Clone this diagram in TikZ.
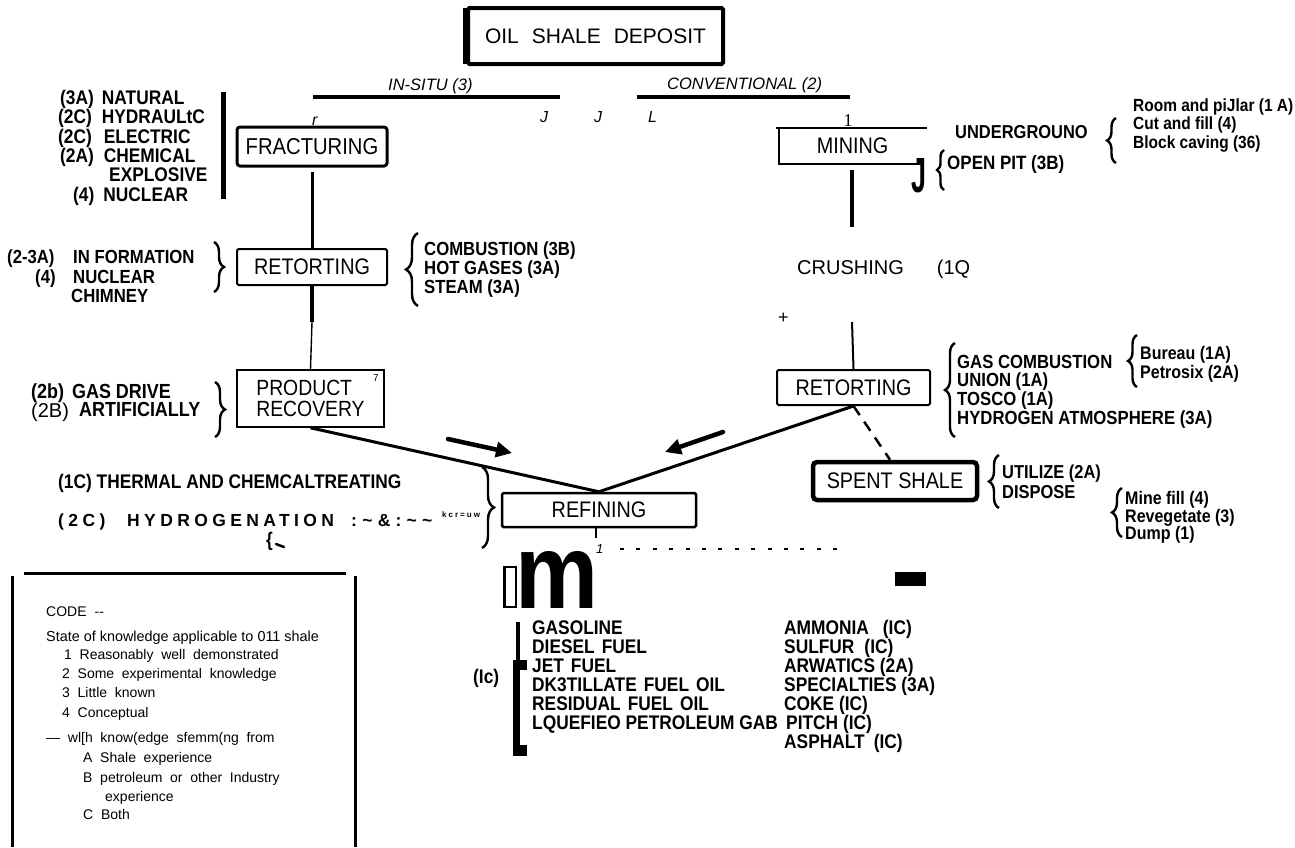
\documentclass[tikz,border=0pt]{standalone}
\usepackage{graphicx}
\usepackage{fontspec}
\setmainfont{Liberation Sans}
\newfontfamily\serifnum{Liberation Serif}
\newfontfamily\cnd{Liberation Sans}[FakeStretch=0.88]
\usetikzlibrary{decorations.pathreplacing,arrows.meta}
\newcommand\fs[1]{\fontsize{#1}{#1}\selectfont}
\newcommand\cb[1]{\cnd\bfseries\fontsize{#1}{#1}\selectfont}
\begin{document}
\begin{tikzpicture}[x=1pt,y=-1pt,
  box/.style={draw, inner sep=0pt, font=\fs{20.5}, line width=2pt, rounded corners=1.5pt},
  lbl/.style={anchor=base west, inner sep=0pt, font=\cb{19.7}},
  tlbl/.style={anchor=base west, inner sep=0pt, font=\cb{19}},
  code/.style={anchor=base west, inner sep=0pt, font=\fs{14}},
  codew/.style={code, execute at begin node={\spaceskip=0.55em\relax}},
  plain/.style={anchor=base west, inner sep=0pt},
  brc/.style={decorate, decoration={brace, amplitude=#1}, line width=2.4pt},
  conn/.style={line width=3pt},
  bigarrow/.style={line width=4.5pt, line cap=round, -{Triangle[length=16pt,width=15pt]}}
]
\useasboundingbox (0,0) rectangle (1295,847);

% ---------- boxes ----------
\node[box, line width=4pt, minimum width=255pt, minimum height=56pt, font=\fs{21}] (deposit) at (595.5,36) {OIL\hspace{13pt}SHALE\hspace{13pt}DEPOSIT};
\draw[line width=6pt] ([yshift=-2pt]deposit.north west) -- ([yshift=2pt]deposit.south west);
\node[box, line width=3pt, rounded corners=3pt, minimum width=150pt, minimum height=39pt, font=\cnd\fs{23}] (frac) at (312,146.5) {FRACTURING};
\node[box, minimum width=150pt, minimum height=36pt, font=\cnd\fs{22.5}] (retL) at (312,267) {RETORTING};
\node[box, line width=1.6pt, rounded corners=0pt, minimum width=147pt, minimum height=57pt, align=left, font=\cnd\fs{22}] (prod) at (310.5,398.5) {PRODUCT\\[-1.5pt]RECOVERY};
\node[box, draw=none, minimum width=145pt, minimum height=34pt, font=\cnd\fs{22.5}] (mining) at (852.5,146) {MINING};
\draw[line width=1.5pt] ([xshift=-3pt]mining.north west) -- ([xshift=1pt]mining.north east);
\draw[line width=1.5pt] (mining.north west) -- (mining.south west) -- ([xshift=-5pt]mining.south east);
\node[plain, font=\fs{20}] (crush) at (797,274) {CRUSHING\hspace{33pt}(1Q};
\node[box, minimum width=153pt, minimum height=35pt, font=\cnd\fs{22.5}] (retR) at (853.5,387.5) {RETORTING};
\node[box, line width=4.5pt, rounded corners=4pt, minimum width=164pt, minimum height=38pt, font=\cnd\fs{22.5}] (spent) at (895,481) {SPENT SHALE};
\node[box, line width=2.5pt, minimum width=194pt, minimum height=34pt, font=\cnd\fs{22.5}] (refin) at (599,510) {REFINING};

% ---------- top branches ----------
\node[plain, font=\itshape\fs{16.5}] (insitu) at (388,90) {IN-SITU (3)};
\node[plain, font=\itshape\fs{16.5}] (conv) at (667,89) {CONVENTIONAL (2)};
\coordinate (isA) at (313,97); \coordinate (isB) at (560,97);
\coordinate (cvA) at (637,97); \coordinate (cvB) at (850,97);
\draw[line width=3.5pt] (isA) -- (isB);
\draw[line width=3.5pt] (cvA) -- (cvB);
\node[plain, font=\itshape\fs{16}] (rr) at (312,125) {r};
\node[plain, font=\itshape\fs{16}] (j1) at (540,122) {J};
\node[plain, font=\itshape\fs{16}] (j2) at (594,122) {J};
\node[plain, font=\itshape\fs{16}] (l1) at (648,122) {L};
\node[anchor=base, inner sep=0pt, font=\serifnum\fs{18}] (one2) at (848,126) {1};

% ---------- connectors ----------
\draw[conn] ([yshift=-4pt]frac.south) -- (retL.north);
\coordinate (retLm) at (312,322);
\draw[line width=3.5pt] (retL.south) -- (retLm);
\draw[line width=1.4pt] (retLm) -- (prod.north);
\coordinate (minB) at (852,170); \coordinate (minE) at (852,227);
\draw[line width=4pt] (minB) -- (minE);
\coordinate (crB) at (852,322);
\draw[line width=2pt] (crB) -- (retR.north);
\draw[conn] (prod.south) -- (refin.north);
\draw[conn] (retR.south) -- (refin.north);
\draw[line width=2.5pt, dash pattern=on 11pt off 8pt] (retR.south) -- ([xshift=-5pt]spent.north);
\draw[line width=2pt] ([xshift=-3pt]refin.south) -- ++(0,10);
\coordinate (a1s) at (448,439); \coordinate (a1e) at (512,453);
\coordinate (a2s) at (723,432); \coordinate (a2e) at (665,452);
\draw[bigarrow] (a1s) -- (a1e);
\draw[bigarrow] (a2s) -- (a2e);

% ---------- fracturing list ----------
\node[lbl] (f1) at (60,104) {(3A)\hspace{8pt}NATURAL};
\node[lbl] (f2) at (58,123) {(2C)\hspace{10pt}HYDRAULtC};
\node[lbl] (f3) at (58,143) {(2C)\hspace{12pt}ELECTRIC};
\node[lbl] (f4) at (60,162) {(2A)\hspace{10pt}CHEMICAL};
\node[lbl] (f5) at (109,181) {EXPLOSIVE};
\node[lbl] (f6) at (73,201) {(4)\hspace{9pt}NUCLEAR};
\draw[line width=5pt] (223,92) -- (223,199);
\node[plain, font=\fs{18}] (plus) at (778,323) {+};

% ---------- left retorting ----------
\node[tlbl] (r1a) at (7,263) {(2-3A)};
\node[tlbl] (r1b) at (73,263) {IN FORMATION};
\node[tlbl] (r2a) at (35,283) {(4)};
\node[tlbl] (r2b) at (73,283) {NUCLEAR};
\node[tlbl] (r3) at (71,302) {CHIMNEY};
\draw[brc=10] (214,242) -- (214,292);
\draw[brc=12] (418,306) -- (418,233);
\node[tlbl] (c1) at (424,255) {COMBUSTION (3B)};
\node[tlbl] (c2) at (424,274) {HOT GASES (3A)};
\node[tlbl] (c3) at (424,293) {STEAM (3A)};

% ---------- product recovery ----------
\node[plain, font=\fs{10}] (seven) at (373,381) {7};
\node[lbl, font=\cb{20.4}] (p1) at (31,398) {(2b)\hspace{8pt}GAS DRIVE};
\node[plain, font=\fs{20}] (p2a) at (31,417) {(2B)};
\node[lbl, font=\cb{20.4}] (p2b) at (79,416) {ARTIFICIALLY};
\draw[brc=10] (215,382) -- (215,437);

% ---------- mining ----------
\node[lbl, font=\cb{18.7}] (m1) at (955,138) {UNDERGROUNO};
\node[lbl, font=\cb{19.3}] (m2) at (947,169) {OPEN PIT (3B)};
\node[anchor=south west, inner sep=0pt] (bigJ) at (911,193) {\resizebox{15pt}{34pt}{\bfseries J}};
\draw[brc=7] (944,190) -- (944,150);
\draw[brc=9] (1116,163) -- (1116,118);
\node[lbl, font=\cb{17.6}] (u1) at (1133,111) {Room and piJlar (1 A)};
\node[lbl, font=\cb{17.6}] (u2) at (1133,129) {Cut and fill (4)};
\node[lbl, font=\cb{17.6}] (u3) at (1133,148) {Block caving (36)};

% ---------- right retorting ----------
\draw[brc=10] (955,437) -- (955,343);
\node[tlbl] (g1) at (957,368) {GAS COMBUSTION};
\node[tlbl] (g2) at (957,386) {UNION (1A)};
\node[tlbl] (g3) at (957,405) {TOSCO (1A)};
\node[tlbl] (g4) at (957,424) {HYDROGEN ATMOSPHERE (3A)};
\draw[brc=9] (1137,387) -- (1137,335);
\node[lbl, font=\cb{18.2}] (b1) at (1140,359) {Bureau (1A)};
\node[lbl, font=\cb{18.2}] (b2) at (1140,378) {Petrosix (2A)};

% ---------- spent shale ----------
\draw[brc=10] (999,508) -- (999,455);
\node[lbl, font=\cb{18.7}] (s1) at (1002,478) {UTILIZE (2A)};
\node[lbl, font=\cb{18.7}] (s2) at (1002,498) {DISPOSE};
\draw[brc=10] (1122,537) -- (1122,488);
\node[lbl, font=\cb{18.2}] (d1) at (1125,504) {Mine fill (4)};
\node[lbl, font=\cb{18.2}] (d2) at (1125,522) {Revegetate (3)};
\node[lbl, font=\cb{18.2}] (d3) at (1125,539) {Dump (1)};

% ---------- refining ----------
\draw[brc=12] (482,467) -- (482,548);
\node[lbl] (h1) at (58,488) {(1C) THERMAL AND CHEMCALTREATING};
\node[lbl, font=\bfseries\fs{17.5}\addfontfeatures{LetterSpace=25}] (h2a) at (58,526) {(2C)};
\node[lbl, font=\bfseries\fs{17.5}\addfontfeatures{LetterSpace=25}] (h2b) at (127,526) {HYDROGENATION};
\node[lbl, font=\bfseries\fs{17.5}\addfontfeatures{LetterSpace=30}] (h2c) at (351,526) {:\textasciitilde\&:\textasciitilde\textasciitilde};
\node[lbl, font=\bfseries\fs{8}\addfontfeatures{LetterSpace=25}] (h2d) at (442,517) {kcr=uw};
\node[lbl] (h3) at (266,546) {\{};
\draw[line width=2.5pt, line cap=round] (276,544) -- (284,547);

% ---------- outputs ----------
\node[plain, font=\itshape\fs{13}] (one) at (596,553) {1};
\foreach \i in {0,...,13} \fill (620+\i*16.4,548) rectangle ++(4,2);
\fill (895,572) rectangle (926,586);
\node[anchor=south west, inner sep=0pt] (bigm) at (515,609) {\resizebox{83pt}{57pt}{\bfseries m}};
\draw[line width=1.5pt] (504,567) rectangle (516,607);
\draw[line width=3pt] (504,567) -- (504,607);
\node[lbl] (ic) at (473,683) {(Ic)};
\fill (516,622) rectangle (520,660);
\fill (513,660) rectangle (520,756);
\fill (520,660) rectangle (527,670);
\fill (520,745) rectangle (527,756);
\node[lbl] (o1) at (532,634) {GASOLINE};
\node[lbl] (o2) at (532,653) {DIESEL\hspace{7pt}FUEL};
\node[lbl] (o3) at (532,672) {JET\hspace{7pt}FUEL};
\node[lbl] (o4) at (532,691) {DK3TILLATE\hspace{7pt}FUEL\hspace{7pt}OIL};
\node[lbl] (o5) at (532,710) {RESIDUAL\hspace{7pt}FUEL\hspace{7pt}OIL};
\node[lbl] (o6) at (532,729) {LQUEFIEO PETROLEUM GAB};
\node[lbl] (q1) at (784,634) {AMMONIA\hspace{14pt}(IC)};
\node[lbl] (q2) at (784,653) {SULFUR\hspace{10pt}(IC)};
\node[lbl] (q3) at (784,672) {ARWATICS (2A)};
\node[lbl] (q4) at (784,691) {SPECIALTIES (3A)};
\node[lbl] (q5) at (784,710) {COKE (IC)};
\node[lbl] (q6) at (786,729) {PITCH (IC)};
\node[lbl] (q7) at (784,748) {ASPHALT\hspace{9pt}(IC)};

% ---------- code box ----------
\draw[line width=3pt] (24,573) -- (346,573);
\draw[line width=3pt] (12,576) -- (12,847);
\draw[line width=3pt] (355,576) -- (355,847);
\node[code] (k0) at (46,616) {CODE\hspace{8pt}-{}-};
\node[code, font=\fs{14.4}] (k1) at (46,641) {State of knowledge applicable to 011 shale};
\node[codew] (k2) at (64,659) {1 Reasonably well demonstrated};
\node[codew] (k3) at (62,678) {2 Some experimental knowledge};
\node[codew] (k4) at (62,697) {3 Little known};
\node[codew] (k5) at (62,717) {4 Conceptual};
\node[codew] (k6) at (46,742) {— wl[h know(edge sfemm(ng from};
\node[codew] (k7) at (83,762) {A Shale experience};
\node[codew] (k8) at (83,782) {B petroleum or other Industry};
\node[codew] (k9) at (105,801) {experience};
\node[codew] (k10) at (83,819) {C Both};
\end{tikzpicture}
\end{document}
